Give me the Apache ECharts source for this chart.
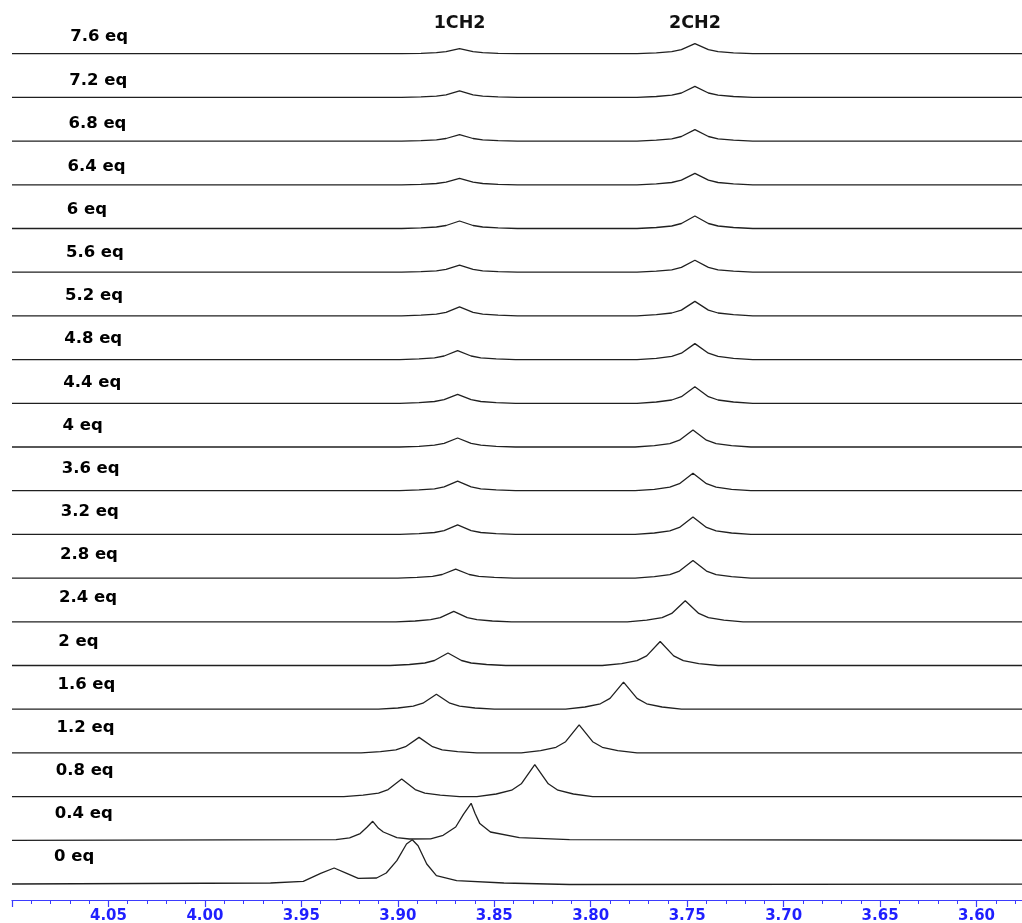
<!DOCTYPE html>
<html>
<head>
<meta charset="utf-8">
<title>CH2 titration – stacked 1H NMR</title>
<script src="https://cdn.jsdelivr.net/npm/echarts@6/dist/echarts.min.js"></script>
<style>
  html, body { margin: 0; padding: 0; background: #fff; }
  #chart { width: 1022px; height: 923px; }
</style>
</head>
<body>
<div id="chart"></div>
<script>
// Chemical-shift window (ppm) and axis ticks
const AXIS_MIN = 3.55;
const AXIS_MAX = 4.10;
const AXIS_STEP = 0.05;
const BASELINE_ENDS = [4.10, 3.55];

// Equivalents added, bottom trace first
const TRACE_LABELS = ['0 eq', '0.4 eq', '0.8 eq', '1.2 eq', '1.6 eq', '2 eq', '2.4 eq', '2.8 eq', '3.2 eq', '3.6 eq',
  '4 eq', '4.4 eq', '4.8 eq', '5.2 eq', '5.6 eq', '6 eq', '6.4 eq', '6.8 eq', '7.2 eq', '7.6 eq'];

// Signal assignments shown above the top trace
const ASSIGNMENTS = ['1CH2', '2CH2'];

// Spectrum vertices per trace: [ppm, intensity above the trace baseline]
const eq0 = [[3.966, 1], [3.949, 2.7], [3.940, 10.7], [3.933, 16], [3.9265, 10.7], [3.9205, 5.7], [3.911, 6], [3.906, 11],
  [3.9005, 23.3], [3.8955, 40], [3.8925, 44.3], [3.8895, 38.3], [3.885, 20], [3.880, 8.3], [3.8695, 3.3], [3.845, 1], [3.811, -0.5]];
const eq04 = [[3.932, 0.7], [3.925, 2.5], [3.9195, 6.7], [3.916, 13], [3.913, 19], [3.910, 12], [3.9075, 8.3], [3.9005, 2.7],
  [3.894, 1.3], [3.883, 1.5], [3.8765, 5], [3.870, 13.3], [3.866, 26], [3.862, 37], [3.860, 27], [3.8575, 16.7], [3.852, 8.3],
  [3.837, 2.7], [3.811, 0.7]];
const eq08 = [[3.928, 0], [3.918, 1.4], [3.910, 3.5], [3.905, 7], [3.898, 17.5], [3.891, 7], [3.886, 3.5], [3.878, 1.4], [3.868, 0],
  [3.859, 0], [3.849, 2.6], [3.841, 6.4], [3.836, 12.8], [3.829, 32], [3.822, 12.8], [3.817, 6.4], [3.809, 2.6], [3.799, 0]];
const eq12 = [[3.919, 0], [3.909, 1.2], [3.901, 3.1], [3.896, 6.2], [3.889, 15.5], [3.882, 6.2], [3.877, 3.1], [3.869, 1.2], [3.859, 0],
  [3.836, 0], [3.826, 2.2], [3.818, 5.6], [3.813, 11.2], [3.806, 28], [3.799, 11.2], [3.794, 5.6], [3.786, 2.2], [3.776, 0]];
const eq16 = [[3.910, 0], [3.900, 1.2], [3.892, 3], [3.887, 6], [3.880, 15], [3.873, 6], [3.868, 3], [3.860, 1.2], [3.850, 0],
  [3.813, 0], [3.803, 2.2], [3.795, 5.4], [3.790, 10.8], [3.783, 27], [3.776, 10.8], [3.771, 5.4], [3.763, 2.2], [3.753, 0]];
const eq20 = [[3.904, 0], [3.894, 1], [3.886, 2.5], [3.881, 5], [3.874, 12.5], [3.867, 5], [3.862, 2.5], [3.854, 1], [3.844, 0],
  [3.794, 0], [3.784, 1.9], [3.776, 4.8], [3.771, 9.6], [3.764, 24], [3.757, 9.6], [3.752, 4.8], [3.744, 1.9], [3.734, 0]];
const eq24 = [[3.901, 0], [3.891, 0.8], [3.883, 2.1], [3.878, 4.2], [3.871, 10.5], [3.864, 4.2], [3.859, 2.1], [3.851, 0.8], [3.841, 0],
  [3.781, 0], [3.771, 1.7], [3.763, 4.2], [3.758, 8.4], [3.751, 21], [3.744, 8.4], [3.739, 4.2], [3.731, 1.7], [3.721, 0]];
const eq28 = [[3.900, 0], [3.890, 0.7], [3.882, 1.8], [3.877, 3.6], [3.870, 9], [3.863, 3.6], [3.858, 1.8], [3.850, 0.7], [3.840, 0],
  [3.777, 0], [3.767, 1.4], [3.759, 3.5], [3.754, 7], [3.747, 17.5], [3.740, 7], [3.735, 3.5], [3.727, 1.4], [3.717, 0]];
const eq32 = [[3.899, 0], [3.889, 0.8], [3.881, 1.9], [3.876, 3.8], [3.869, 9.5], [3.862, 3.8], [3.857, 1.9], [3.849, 0.8], [3.839, 0],
  [3.777, 0], [3.767, 1.4], [3.759, 3.5], [3.754, 7], [3.747, 17.5], [3.740, 7], [3.735, 3.5], [3.727, 1.4], [3.717, 0]];
const eq36 = [[3.899, 0], [3.889, 0.8], [3.881, 1.9], [3.876, 3.8], [3.869, 9.5], [3.862, 3.8], [3.857, 1.9], [3.849, 0.8], [3.839, 0],
  [3.777, 0], [3.767, 1.4], [3.759, 3.5], [3.754, 7], [3.747, 17.5], [3.740, 7], [3.735, 3.5], [3.727, 1.4], [3.717, 0]];
const eq40 = [[3.899, 0], [3.889, 0.7], [3.881, 1.8], [3.876, 3.6], [3.869, 9], [3.862, 3.6], [3.857, 1.8], [3.849, 0.7], [3.839, 0],
  [3.777, 0], [3.767, 1.4], [3.759, 3.4], [3.754, 6.8], [3.747, 17], [3.740, 6.8], [3.735, 3.4], [3.727, 1.4], [3.717, 0]];
const eq44 = [[3.899, 0], [3.889, 0.7], [3.881, 1.8], [3.876, 3.6], [3.869, 9], [3.862, 3.6], [3.857, 1.8], [3.849, 0.7], [3.839, 0],
  [3.776, 0], [3.766, 1.3], [3.758, 3.3], [3.753, 6.6], [3.746, 16.5], [3.739, 6.6], [3.734, 3.3], [3.726, 1.3], [3.716, 0]];
const eq48 = [[3.899, 0], [3.889, 0.7], [3.881, 1.8], [3.876, 3.6], [3.869, 9], [3.862, 3.6], [3.857, 1.8], [3.849, 0.7], [3.839, 0],
  [3.776, 0], [3.766, 1.3], [3.758, 3.2], [3.753, 6.4], [3.746, 16], [3.739, 6.4], [3.734, 3.2], [3.726, 1.3], [3.716, 0]];
const eq52 = [[3.898, 0], [3.888, 0.7], [3.880, 1.8], [3.875, 3.6], [3.868, 9], [3.861, 3.6], [3.856, 1.8], [3.848, 0.7], [3.838, 0],
  [3.776, 0], [3.766, 1.2], [3.758, 2.9], [3.753, 5.8], [3.746, 14.5], [3.739, 5.8], [3.734, 2.9], [3.726, 1.2], [3.716, 0]];
const eq56 = [[3.898, 0], [3.888, 0.6], [3.880, 1.4], [3.875, 2.8], [3.868, 7], [3.861, 2.8], [3.856, 1.4], [3.848, 0.6], [3.838, 0],
  [3.776, 0], [3.766, 1], [3.758, 2.4], [3.753, 4.8], [3.746, 12], [3.739, 4.8], [3.734, 2.4], [3.726, 1], [3.716, 0]];
const eq60 = [[3.898, 0], [3.888, 0.6], [3.880, 1.5], [3.875, 3], [3.868, 7.5], [3.861, 3], [3.856, 1.5], [3.848, 0.6], [3.838, 0],
  [3.776, 0], [3.766, 1], [3.758, 2.5], [3.753, 5], [3.746, 12.5], [3.739, 5], [3.734, 2.5], [3.726, 1], [3.716, 0]];
const eq64 = [[3.898, 0], [3.888, 0.5], [3.880, 1.3], [3.875, 2.6], [3.868, 6.5], [3.861, 2.6], [3.856, 1.3], [3.848, 0.5], [3.838, 0],
  [3.776, 0], [3.766, 0.9], [3.758, 2.3], [3.753, 4.6], [3.746, 11.5], [3.739, 4.6], [3.734, 2.3], [3.726, 0.9], [3.716, 0]];
const eq68 = [[3.898, 0], [3.888, 0.5], [3.880, 1.3], [3.875, 2.6], [3.868, 6.5], [3.861, 2.6], [3.856, 1.3], [3.848, 0.5], [3.838, 0],
  [3.776, 0], [3.766, 0.9], [3.758, 2.3], [3.753, 4.6], [3.746, 11.5], [3.739, 4.6], [3.734, 2.3], [3.726, 0.9], [3.716, 0]];
const eq72 = [[3.898, 0], [3.888, 0.5], [3.880, 1.3], [3.875, 2.6], [3.868, 6.5], [3.861, 2.6], [3.856, 1.3], [3.848, 0.5], [3.838, 0],
  [3.776, 0], [3.766, 0.9], [3.758, 2.2], [3.753, 4.4], [3.746, 11], [3.739, 4.4], [3.734, 2.2], [3.726, 0.9], [3.716, 0]];
const eq76 = [[3.898, 0], [3.888, 0.4], [3.880, 1], [3.875, 2], [3.868, 5], [3.861, 2], [3.856, 1], [3.848, 0.4], [3.838, 0],
  [3.776, 0], [3.766, 0.8], [3.758, 2], [3.753, 4], [3.746, 10], [3.739, 4], [3.734, 2], [3.726, 0.8], [3.716, 0]];

// Peak positions of the top trace, used to place the assignments
const ASSIGNMENT_PPM = [3.868, 3.746];

const SPECTRA = [eq0, eq04, eq08, eq12, eq16, eq20, eq24, eq28, eq32, eq36,
  eq40, eq44, eq48, eq52, eq56, eq60, eq64, eq68, eq72, eq76];

// Vertical stacking: each trace sits this many intensity units above the one below
const SPACING = 43.7;

const chart = echarts.init(document.getElementById('chart'), null, { renderer: 'canvas' });

const series = SPECTRA.map((pts, k) => {
  const off = k * SPACING;
  const data = [[BASELINE_ENDS[0], off]]
    .concat(pts.map(p => [p[0], p[1] + off]))
    .concat([[BASELINE_ENDS[1], off]]);
  return {
    name: TRACE_LABELS[k],
    type: 'line',
    data: data,
    symbol: 'none',
    smooth: false,
    silent: true,
    lineStyle: { color: '#202020', width: 1.3 },
    z: 2
  };
});

const BLUE = '#3b3bff';

chart.setOption({
  animation: false,
  backgroundColor: '#ffffff',
  // The 3.55 end of the scale lies past the right edge of the canvas
  grid: { left: 12, top: 0, width: 1061, height: 900, outerBoundsMode: 'none', containLabel: false },
  xAxis: {
    type: 'value',
    inverse: true,
    min: AXIS_MIN,
    max: AXIS_MAX,
    interval: AXIS_STEP,
    axisLine: { show: true, onZero: false, lineStyle: { color: BLUE, width: 1.2 } },
    axisTick: { show: true, length: 7, lineStyle: { color: BLUE, width: 1.2 } },
    minorTick: { show: true, splitNumber: 5, length: 4, lineStyle: { color: BLUE, width: 1 } },
    splitLine: { show: false },
    axisLabel: {
      show: true,
      margin: 9,
      showMaxLabel: false,
      color: '#1f1fff',
      fontFamily: 'DejaVu Sans',
      fontWeight: 'bold',
      fontSize: 15,
      formatter: v => v.toFixed(2)
    }
  },
  yAxis: {
    type: 'value',
    min: -16,
    max: 884,
    show: false
  },
  series: series
});

// Trace labels (left column) and signal assignments (top)
const graphics = [];
TRACE_LABELS.forEach((label, k) => {
  const base = chart.convertToPixel({ gridIndex: 0 }, [AXIS_MAX, k * SPACING]);
  graphics.push({
    type: 'text',
    x: 54 + k * 0.85,
    y: base[1] - 27 + k * 0.55,
    silent: true,
    style: {
      text: label,
      font: 'bold 16.5px "DejaVu Sans"',
      fill: '#000',
      textAlign: 'left', align: 'left',
      textVerticalAlign: 'middle', verticalAlign: 'middle'
    }
  });
});
ASSIGNMENTS.forEach((name, i) => {
  const p = chart.convertToPixel({ gridIndex: 0 }, [ASSIGNMENT_PPM[i], 0]);
  graphics.push({
    type: 'text',
    x: p[0],
    y: 23,
    silent: true,
    style: {
      text: name,
      font: 'bold 17.5px "DejaVu Sans"',
      fill: '#111',
      textAlign: 'center', align: 'center',
      textVerticalAlign: 'middle', verticalAlign: 'middle'
    }
  });
});
chart.setOption({ graphic: graphics });
</script>
</body>
</html>
